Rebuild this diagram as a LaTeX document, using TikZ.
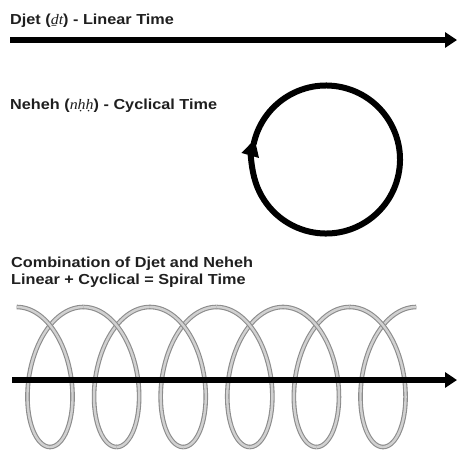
\documentclass[tikz,border=0pt]{standalone}
\usepackage{fontspec}
\setmainfont{Liberation Sans}[FakeStretch=1.12]
\newfontfamily\translit{Liberation Serif}[FakeStretch=1.1]
\usetikzlibrary{arrows.meta}
\tikzset{
  label/.style={anchor=base west, inner sep=0pt, font=\bfseries\fontsize{14.5}{17}\selectfont, text=black!88},
  timearrow/.style={line width=6pt, -{Triangle[length=12pt,width=15pt]}},
  cyclearrow/.style={line width=6pt, -{Triangle[length=17pt,width=17pt]}},
  helix/.style={draw=black!45, line width=1.1pt, double=black!18, double distance=2.4pt}
}
\begin{document}
\begin{tikzpicture}[x=1pt,y=-1pt]
\useasboundingbox (0,0) rectangle (457,450);
% titles
\node[label] (t1) at (10,24) {Djet ({\translit\mdseries\itshape ḏt}) - Linear Time};
\node[label] (t2) at (10,109) {Neheh ({\translit\mdseries\itshape nḥḥ}) - Cyclical Time};
\node[label] (t3) at (11,267) {Combination of Djet and Neheh};
\node[label] (t4) at (11,284) {Linear + Cyclical = Spiral Time};
% linear time
\coordinate (l1s) at (10,40);
\coordinate (l1e) at (457,40);
\draw[timearrow] (l1s) -- (l1e);
% cyclical time
\coordinate (cc) at (326,159.5);
\draw[cyclearrow] ([shift={(168:74pt)}]cc) arc[start angle=168, end angle=-196, radius=74pt];
% spiral: back strands first, then front strands
\foreach \k in {0,...,5}{
  \draw[helix] plot[domain={(2*\k+1)*pi}:{(2*\k+2)*pi}, samples=60, variable=\t]
    ({16.7 + 10.6*\t + 37.7*sin(\t r)}, {377 - 70*cos(\t r)});
}
\foreach \k in {0,...,5}{
  \draw[helix] plot[domain={(2*\k)*pi}:{(2*\k+1)*pi}, samples=60, variable=\t]
    ({16.7 + 10.6*\t + 37.7*sin(\t r)}, {377 - 70*cos(\t r)});
}
% linear axis through spiral
\coordinate (l2s) at (12,380);
\coordinate (l2e) at (457,380);
\draw[timearrow] (l2s) -- (l2e);
\end{tikzpicture}
\end{document}
